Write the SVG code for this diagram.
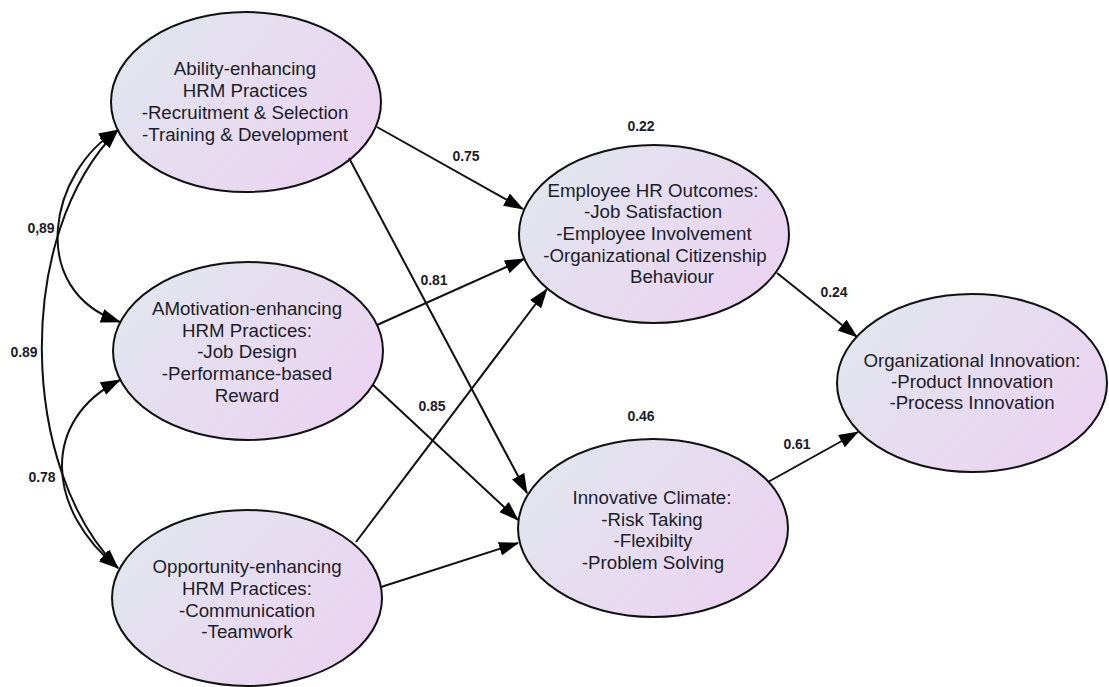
<svg xmlns="http://www.w3.org/2000/svg" width="1109" height="687" viewBox="0 0 1109 687">
  <style>
    .node ellipse { fill: url(#nodeFill); stroke: #111; stroke-width: 2; }
    .node text { font-family: "Liberation Sans", Arial, sans-serif; font-size: 18.7px; fill: #1c1c2a; text-anchor: middle; }
    .edge { fill: none; stroke: #111; stroke-width: 2; }
    .path { marker-end: url(#head); }
    .cov { marker-start: url(#head); marker-end: url(#head); }
    .coef { font-family: "Liberation Sans", Arial, sans-serif; font-size: 14px; font-weight: bold; fill: #1c1c2a; text-anchor: middle; }
  </style>
  <defs>
    <linearGradient id="nodeFill" x1="0" y1="0.2" x2="1" y2="0.8">
      <stop offset="0" stop-color="#e1e6ee"/>
      <stop offset="1" stop-color="#ecd2f2"/>
    </linearGradient>
    <marker id="head" markerUnits="userSpaceOnUse" viewBox="0 0 20 14" markerWidth="20" markerHeight="14" refX="19" refY="7" orient="auto-start-reverse">
      <path d="M0,0 L20,7 L0,14 Z" fill="#000"/>
    </marker>
  </defs>

  <rect width="1109" height="687" fill="#fff"/>

  <!-- latent constructs -->
  <g id="ability" class="node">
    <ellipse cx="246" cy="102" rx="135" ry="90"/>
    <text x="245" y="75">Ability-enhancing</text>
    <text x="245" y="97">HRM Practices</text>
    <text x="245" y="119">-Recruitment &amp; Selection</text>
    <text x="245" y="141">-Training &amp; Development</text>
  </g>

  <g id="motivation" class="node">
    <ellipse cx="248" cy="351" rx="135" ry="89"/>
    <text x="247" y="315">AMotivation-enhancing</text>
    <text x="247" y="337">HRM Practices:</text>
    <text x="247" y="358">-Job Design</text>
    <text x="247" y="380">-Performance-based</text>
    <text x="247" y="402">Reward</text>
  </g>

  <g id="opportunity" class="node">
    <ellipse cx="247" cy="598" rx="135" ry="88"/>
    <text x="247" y="573">Opportunity-enhancing</text>
    <text x="247" y="595">HRM Practices:</text>
    <text x="247" y="617">-Communication</text>
    <text x="247" y="638">-Teamwork</text>
  </g>

  <g id="employee-outcomes" class="node">
    <ellipse cx="654" cy="234" rx="135" ry="89"/>
    <text x="653" y="197">Employee HR Outcomes:</text>
    <text x="653" y="218">-Job Satisfaction</text>
    <text x="654" y="240">-Employee Involvement</text>
    <text x="655" y="262">-Organizational Citizenship</text>
    <text x="672" y="283">Behaviour</text>
  </g>

  <g id="innovative-climate" class="node">
    <ellipse cx="653" cy="528" rx="135" ry="89"/>
    <text x="652" y="504">Innovative Climate:</text>
    <text x="652" y="526">-Risk Taking</text>
    <text x="653" y="547">-Flexibilty</text>
    <text x="653" y="569">-Problem Solving</text>
  </g>

  <g id="org-innovation" class="node">
    <ellipse cx="972" cy="383" rx="135" ry="89"/>
    <text x="972" y="367">Organizational Innovation:</text>
    <text x="972" y="388">-Product Innovation</text>
    <text x="972" y="409">-Process Innovation</text>
  </g>

  <!-- paths and covariances -->
  <g id="connectors">
    <path class="edge path" d="M377,127 L523,209"/>
    <path class="edge path" d="M349,158 L527,493"/>
    <path class="edge path" d="M377,325 L524,259"/>
    <path class="edge path" d="M373,385 L518,520"/>
    <path class="edge path" d="M356,542 L547,289"/>
    <path class="edge path" d="M381,587 L518,543"/>
    <path class="edge path" d="M777,273 L857,337"/>
    <path class="edge path" d="M768,482 L858,432"/>

    <path class="edge cov" d="M118,130 C50,170 25,290 120,322"/>
    <path class="edge cov" d="M118,130 C13,235 20,470 118,568"/>
    <path class="edge cov" d="M120,380 C40,420 46,510 118,568"/>
  </g>

  <!-- coefficients -->
  <g id="coefficients">
    <text class="coef" x="466" y="161">0.75</text>
    <text class="coef" x="641" y="131">0.22</text>
    <text class="coef" x="434" y="285">0.81</text>
    <text class="coef" x="432" y="411">0.85</text>
    <text class="coef" x="641" y="421">0.46</text>
    <text class="coef" x="834" y="297">0.24</text>
    <text class="coef" x="797" y="449">0.61</text>
    <text class="coef" x="41" y="233">0,89</text>
    <text class="coef" x="24" y="357">0.89</text>
    <text class="coef" x="42" y="482">0.78</text>
  </g>
</svg>
